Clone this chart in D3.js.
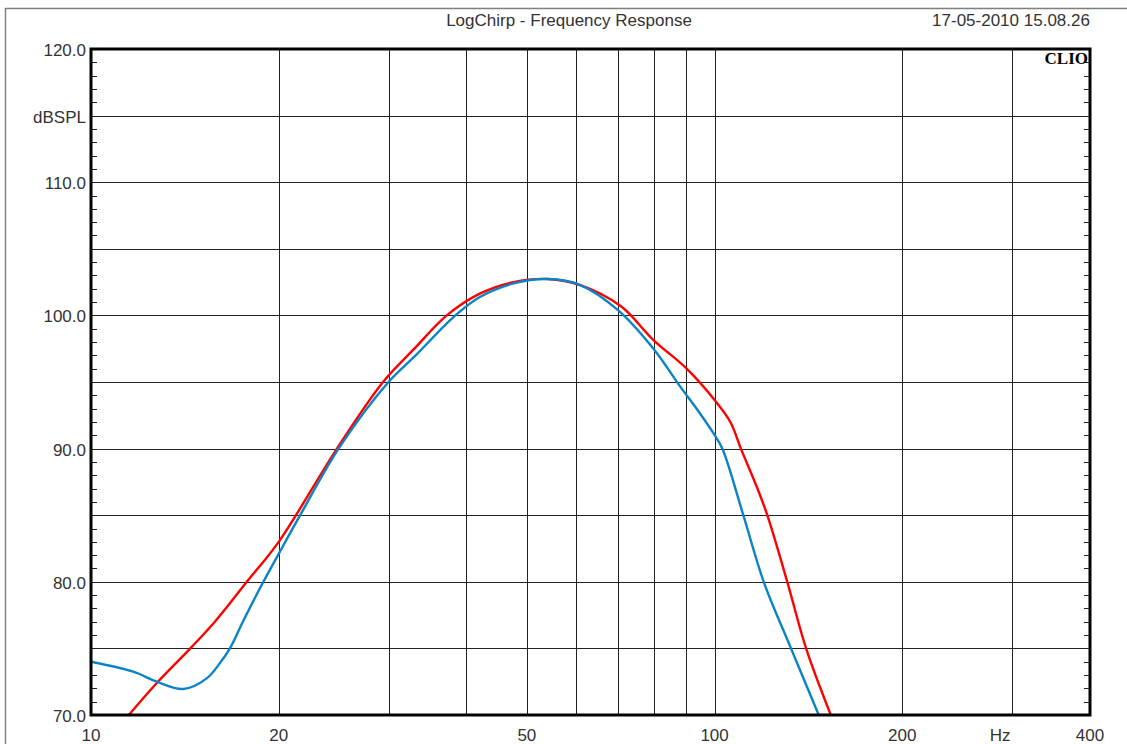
<!DOCTYPE html>
<html>
  <head>
    <style>
    body {
      margin: 0;
      background: #fff;
      font-family: "Liberation Sans", Arial, sans-serif;
    }
    </style>
  </head>
  <body>
    <script src="https://d3js.org/d3.v7.min.js"></script>
    <script>
    var width = 1127, height = 744;

    // red trace (Hz / dBSPL)
    var redFreq = [11.5, 12.75, 14.43, 15.8, 17.78, 20, 24.8, 29.4, 33, 37.2, 42.1, 47.6, 54, 60.9, 70.7, 79.8, 90.2, 100, 106, 110.2, 117.4, 121.5, 130.8, 140.2, 153.6];
    var redDb   = [70, 72.4, 75.0, 77.0, 80.0, 83.0, 90.0, 95.0, 97.5, 100, 101.65, 102.5, 102.73, 102.28, 100.7, 98.15, 96.0, 93.65, 92.0, 90, 86.9, 85, 80, 75, 70];

    // blue trace
    var blueFreq = [10, 11.69, 12.75, 14.06, 15.33, 16.1, 16.7, 17.56, 18.9, 20, 21.65, 24.95, 30, 33, 38.4, 42.1, 47.6, 54, 60.9, 70, 79.8, 88.1, 93.9, 99.75, 102.9, 111.2, 119.9, 132.6, 146.9];
    var blueDb   = [74.0, 73.25, 72.5, 71.95, 72.75, 73.9, 75.0, 77.1, 80.0, 82.1, 85.0, 90.0, 95.0, 96.9, 100, 101.4, 102.4, 102.73, 102.28, 100.4, 97.5, 94.65, 92.9, 91.1, 90, 85, 80, 75, 70];

    var xGrid = [20, 30, 40, 50, 60, 70, 80, 90, 100, 200, 300];
    var xTickLabels = [10, 20, 50, 100, 200, 400];
    var yGrid = [75, 80, 85, 90, 95, 100, 105, 110, 115];
    var yTickLabels = [70, 80, 90, 100, 110, 120];
    var yMinor = d3.range(71, 120);

    var x = d3.scaleLog().domain([10, 400]).range([91, 1090]);
    var y = d3.scaleLinear().domain([70, 120]).range([715, 49]);

    var svg = d3.select("body").append("svg")
        .attr("width", width)
        .attr("height", height);

    // outer frame (runs off the right and bottom)
    svg.append("path")
        .attr("d", "M5.5,744V8.5H1127")
        .attr("fill", "none")
        .attr("stroke", "#808080")
        .attr("stroke-width", 1.5);

    svg.append("text")
        .attr("x", 569).attr("y", 26)
        .attr("text-anchor", "middle")
        .attr("font-size", 17)
        .attr("fill", "#333")
        .text("LogChirp - Frequency Response");

    svg.append("text")
        .attr("x", 1011).attr("y", 26)
        .attr("text-anchor", "middle")
        .attr("font-size", 17)
        .attr("fill", "#333")
        .text("17-05-2010 15.08.26");

    // grid
    svg.selectAll(".vg").data(xGrid).enter().append("line")
        .attr("x1", function(d) { return Math.round(x(d)) + 0.5; })
        .attr("x2", function(d) { return Math.round(x(d)) + 0.5; })
        .attr("y1", 49).attr("y2", 715)
        .attr("stroke", "#222").attr("stroke-width", 1);

    svg.selectAll(".hg").data(yGrid).enter().append("line")
        .attr("y1", function(d) { return Math.round(y(d)) + 0.5; })
        .attr("y2", function(d) { return Math.round(y(d)) + 0.5; })
        .attr("x1", 91).attr("x2", 1090)
        .attr("stroke", "#222").attr("stroke-width", 1);

    // minor ticks inside, left and right
    svg.selectAll(".tl").data(yMinor).enter().append("line")
        .attr("y1", function(d) { return Math.round(y(d)) + 0.5; })
        .attr("y2", function(d) { return Math.round(y(d)) + 0.5; })
        .attr("x1", 91).attr("x2", 97)
        .attr("stroke", "#222");
    svg.selectAll(".tr").data(yMinor).enter().append("line")
        .attr("y1", function(d) { return Math.round(y(d)) + 0.5; })
        .attr("y2", function(d) { return Math.round(y(d)) + 0.5; })
        .attr("x1", 1084).attr("x2", 1090)
        .attr("stroke", "#222");

    // traces
    svg.append("clipPath").attr("id", "clip")
      .append("rect").attr("x", 91).attr("y", 49).attr("width", 999).attr("height", 666);

    var line = d3.line()
        .x(function(d) { return x(d[0]); })
        .y(function(d) { return y(d[1]); })
        .curve(d3.curveCatmullRom.alpha(0.5));

    var g = svg.append("g").attr("clip-path", "url(#clip)");

    g.append("path")
        .attr("d", line(d3.zip(redFreq, redDb)))
        .attr("fill", "none")
        .attr("stroke", "#ff0000")
        .attr("stroke-width", 2.4);

    g.append("path")
        .attr("d", line(d3.zip(blueFreq, blueDb)))
        .attr("fill", "none")
        .attr("stroke", "#0a84c6")
        .attr("stroke-width", 2.4);

    // plot frame
    svg.append("path")
        .attr("d", "M91,49H1090V715H91Z")
        .attr("fill", "none")
        .attr("stroke", "#000")
        .attr("stroke-width", 3);

    svg.append("text")
        .attr("x", 1088).attr("y", 64)
        .attr("text-anchor", "end")
        .attr("font-family", "'Liberation Serif', 'DejaVu Serif', serif")
        .attr("font-weight", "bold")
        .attr("font-size", 17)
        .text("CLIO");

    // labels
    svg.selectAll(".yl").data(yTickLabels).enter().append("text")
        .attr("x", 86)
        .attr("y", function(d) { return y(d) + 7; })
        .attr("text-anchor", "end")
        .attr("font-size", 17)
        .attr("fill", "#333")
        .text(function(d) { return d.toFixed(1); });

    svg.append("text")
        .attr("x", 86).attr("y", y(115) + 7)
        .attr("text-anchor", "end")
        .attr("font-size", 17)
        .attr("fill", "#333")
        .text("dBSPL");

    svg.selectAll(".xl").data(xTickLabels).enter().append("text")
        .attr("x", function(d) { return x(d); })
        .attr("y", 741)
        .attr("text-anchor", "middle")
        .attr("font-size", 17)
        .attr("fill", "#333")
        .text(function(d) { return d; });

    svg.append("text")
        .attr("x", x(287)).attr("y", 741)
        .attr("text-anchor", "middle")
        .attr("font-size", 17)
        .attr("fill", "#333")
        .text("Hz");
    </script>
  </body>
</html>
